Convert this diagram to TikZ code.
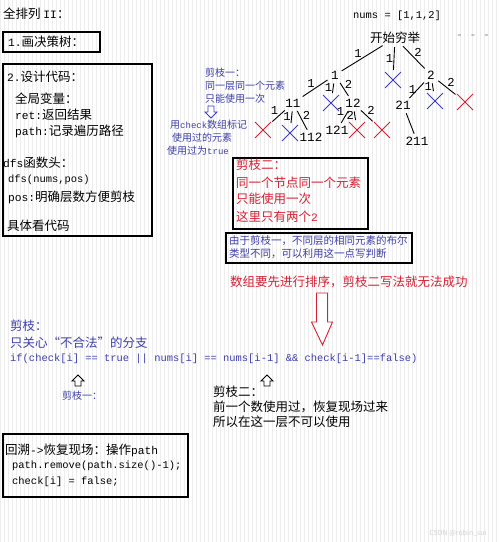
\documentclass[tikz,border=0pt]{standalone}
\usepackage{fontspec}
\setmainfont{Noto Sans CJK SC}
\newfontfamily\mono{Liberation Mono}[Scale=0.9]
\usetikzlibrary{shapes.misc}
\definecolor{annred}{RGB}{214,32,52}
\definecolor{annblue}{RGB}{62,62,168}
\definecolor{xblue}{RGB}{60,60,200}

\begin{document}
\begin{tikzpicture}[x=1pt,y=-1pt,
  every node/.style={inner sep=0pt,font=\fontsize{12.5}{15}\selectfont},
  txt/.style={anchor=west},
  small/.style={font=\fontsize{10}{12}\selectfont},
  code/.style={font=\fontsize{11.6}{14}\selectfont\mono},
  num/.style={font=\fontsize{14}{16}\selectfont\mono,inner sep=1pt},
  lbl/.style={font=\fontsize{13.5}{15}\selectfont\mono,inner sep=0.5pt},
  xmark/.style={cross out,draw=#1,line width=0.9pt,minimum size=15pt},
  br/.style={line width=0.9pt,shorten <=3pt,shorten >=2pt},
  box/.style={line width=1.2pt},
  hollow/.style={line width=0.9pt,fill=white,line join=miter},
  redtxt/.style={text=annred},
  bluetxt/.style={text=annblue}]
\useasboundingbox (0,0) rectangle (500,542);
\fill[white] (0,0) rectangle (500,542);
\draw[gray!14,line width=0.25pt,step=4] (0,0) grid (500,542);

% left column
\node[txt] (title) at (3,14) {全排列 {\mono II}：};
\node[txt] (step1) at (8,42) {{\mono 1.}画决策树：};
\draw[box] (3,32) rectangle (100,52);
\node[txt] (step2) at (7,77) {{\mono 2.}设计代码：};
\node[txt] (glob) at (15,99) {全局变量：};
\node[txt] (ret) at (15,115) {{\mono ret:}返回结果};
\node[txt] (pathvar) at (15,131) {{\mono path:}记录遍历路径};
\node[txt] (dfshead) at (3,163) {{\mono dfs}函数头：};
\node[txt,code] (dfscall) at (8,180) {dfs(nums,pos)};
\node[txt] (posvar) at (8,197) {{\mono pos:}明确层数方便剪枝};
\node[txt] (seecode) at (7,226) {具体看代码};
\draw[box] (3,64) rectangle (152,236);

% decision tree
\node[txt,code] (nums) at (353,16) {nums = [1,1,2]};
\node (root) at (395,38) {开始穷举};
\node[text=gray] (dots) at (473,37) {\mono - - -};
\node[num] (n1) at (335,75) {1};
\node[xmark=xblue] (x1) at (393,80) {};
\node[num] (n2) at (431,75) {2};
\node[num] (n11) at (293,103) {11};
\node[xmark=xblue] (x12) at (331,103) {};
\node[num] (n12) at (353,103) {12};
\node[num] (n21) at (403,105) {21};
\node[xmark=xblue] (x22) at (435,101) {};
\node[xmark=annred] (x23) at (465,102) {};
\node[xmark=annred] (x111) at (263,130) {};
\node[xmark=xblue] (x112) at (290,133) {};
\node[num] (n112) at (311,137) {112};
\node[num] (n121) at (337,130) {121};
\node[xmark=annred] (x122) at (357,130) {};
\node[xmark=annred] (x123) at (382,130) {};
\node[num] (n211) at (417,141) {211};

\path[br] (root) edge node[lbl,above left] {1} (n1)
                 edge node[lbl,left] {1} (x1)
                 edge node[lbl,above right] {2} (n2)
          (n1) edge node[lbl,above left] {1} (n11)
               edge node[lbl,left] {1} (x12)
               edge node[lbl,above right] {2} (n12)
          (n2) edge node[lbl,left] {1} (n21)
               edge node[lbl,left] {1} (x22)
               edge node[lbl,above right] {2} (x23)
          (n11) edge node[lbl,above left] {1} (x111)
                edge node[lbl,left] {1} (x112)
                edge node[lbl,above right] {2} (n112)
          (n12) edge node[lbl,above left] {1} (n121)
                edge node[lbl,left] {2} (x122)
                edge node[lbl,above right] {2} (x123)
          (n21) edge (n211);

% pruning one, blue notes
\node[txt,small,bluetxt] (cut1) at (205,73) {剪枝一：};
\node[txt,small,bluetxt] (samelevel) at (205,86) {同一层同一个元素};
\node[txt,small,bluetxt] (onlyonce) at (205,99) {只能使用一次};
\draw[hollow,draw=xblue] (211,118) -- ++(6,-6) -- ++(-3,0) -- ++(0,-6) -- ++(-6,0) -- ++(0,6) -- ++(-3,0) -- cycle;
\node[txt,small,bluetxt] (mark) at (170,125) {用{\mono check}数组标记};
\node[txt,small,bluetxt] (used) at (172,138) {使用过的元素};
\node[txt,small,bluetxt] (istrue) at (167,151) {使用过为{\mono true}};

% pruning two, red box
\draw[box] (233,158) rectangle (368,229);
\node[txt,redtxt] (cut2) at (236,165) {剪枝二：};
\node[txt,redtxt] (samenode) at (236,183) {同一个节点同一个元素};
\node[txt,redtxt] (once2) at (236,199) {只能使用一次};
\node[txt,redtxt] (twotwo) at (236,217) {这里只有两个{\mono 2}};

% blue box
\draw[box] (226,233) rectangle (412,263);
\node[txt,bluetxt,font=\fontsize{10.5}{12}\selectfont] (since) at (229,241) {由于剪枝一，不同层的相同元素的布尔};
\node[txt,bluetxt,font=\fontsize{10.5}{12}\selectfont] (usethis) at (229,254) {类型不同，可以利用这一点写判断};

\node[txt,redtxt] (sortnote) at (230,282) {数组要先进行排序，剪枝二写法就无法成功};
\draw[hollow,draw=annred] (322.5,345) -- ++(10,-23) -- ++(-5,0) -- ++(0,-29) -- ++(-11,0) -- ++(0,29) -- ++(-5,0) -- cycle;

% pruning condition
\node[txt,bluetxt] (prune) at (10,326) {剪枝：};
\node[txt,bluetxt] (illegal) at (10,343) {只关心“不合法”的分支};
\node[txt,code,bluetxt] (cond) at (10,359) {if(check[i] == true || nums[i] == nums[i-1] \&\& check[i-1]==false)};
\draw[hollow] (78,375) -- ++(6,6) -- ++(-3,0) -- ++(0,5) -- ++(-6,0) -- ++(0,-5) -- ++(-3,0) -- cycle;
\draw[hollow] (267,375) -- ++(6,6) -- ++(-3,0) -- ++(0,5) -- ++(-6,0) -- ++(0,-5) -- ++(-3,0) -- cycle;
\node[txt,small,bluetxt] (cutone) at (62,396) {剪枝一：};
\node[txt] (cuttwo) at (213,392) {剪枝二：};
\node[txt] (prevused) at (213,407) {前一个数使用过，恢复现场过来};
\node[txt] (notthis) at (213,422) {所以在这一层不可以使用};

% backtracking box
\draw[box] (3,434) rectangle (188,497);
\node[txt] (backtrack) at (5,450) {回溯{\mono ->}恢复现场：操作{\mono path}};
\node[txt,code] (remove) at (12,466) {path.remove(path.size()-1);};
\node[txt,code] (reset) at (12,482) {check[i] = false;};

\node[text=gray!35,font=\fontsize{7}{8}\selectfont] (wm) at (458,533) {CSDN @robin\_sui};
\end{tikzpicture}
\end{document}
